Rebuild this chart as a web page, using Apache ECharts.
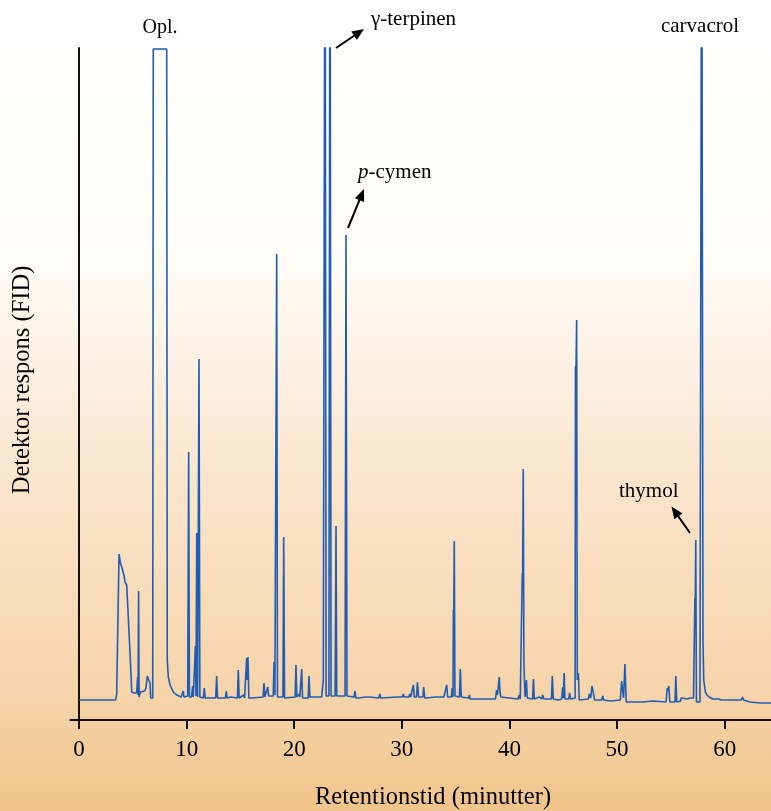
<!DOCTYPE html>
<html>
<head>
<meta charset="utf-8">
<script src="https://cdn.jsdelivr.net/npm/echarts@6/dist/echarts.min.js"></script>
<style>
html,body{margin:0;padding:0;}
#chart{width:771px;height:811px;}
</style>
</head>
<body>
<div id="chart"></div>
<script>
// Retention time (minutes) of each trace point
const times = [
  0, 3.40, 3.50, 3.72, 3.85, 3.97, 4.05, 4.12, 4.20, 4.27, 4.43, 4.58, 4.74, 4.90, 5.10, 5.35, 5.45, 5.49, 5.54, 5.58,
  5.70, 6.10, 6.22, 6.35, 6.45, 6.60, 6.66, 6.85, 6.90, 8.15, 8.20, 8.30, 8.46, 8.76, 9.08, 9.50, 9.62, 9.69, 9.75, 10.10,
  10.19, 10.26, 10.45, 10.56, 10.62, 10.75, 10.81, 10.87, 10.94, 11.02, 11.08, 11.15, 11.23, 11.55, 11.64, 11.72, 12.70, 12.79, 12.87, 13.60,
  13.69, 13.76, 14.10, 14.72, 14.80, 14.88, 15.30, 15.38, 15.50, 15.58, 15.63, 15.70, 15.78, 16.10, 17.10, 17.19, 17.27, 17.45, 17.53, 17.62,
  18.05, 18.12, 18.20, 18.28, 18.37, 18.44, 18.95, 19.02, 19.10, 20.08, 20.16, 20.24, 20.40, 20.46, 20.52, 20.62, 20.69, 20.77, 21.30, 21.37,
  21.45, 22.55, 22.70, 22.79, 22.86, 22.96, 23.22, 23.32, 23.42, 23.80, 23.88, 23.95, 24.72, 24.81, 24.90, 25.55, 25.65, 25.72, 26.00, 26.60,
  27.04, 27.85, 27.95, 28.05, 29.60, 29.67, 30.05, 30.14, 30.22, 30.65, 30.74, 30.82, 30.98, 31.07, 31.15, 31.35, 31.45, 31.55, 31.95, 32.03,
  32.12, 33.20, 33.90, 34.08, 34.17, 34.25, 34.60, 34.67, 34.75, 34.79, 34.82, 34.87, 34.93, 35.03, 35.35, 35.43, 35.52, 36.20, 36.27, 36.35,
  38.70, 38.80, 38.88, 39.05, 39.12, 39.20, 39.30, 40.80, 40.90, 41.00, 41.15, 41.19, 41.22, 41.28, 41.34, 41.45, 41.50, 41.57, 41.65, 42.15,
  42.22, 42.30, 42.80, 43.00, 43.08, 43.20, 43.90, 43.98, 44.07, 44.50, 44.85, 44.94, 45.00, 45.08, 45.15, 45.50, 45.58, 45.68, 46.10, 46.13,
  46.17, 46.24, 46.30, 46.40, 46.48, 47.33, 47.42, 47.55, 47.66, 47.78, 47.90, 48.58, 48.66, 48.75, 49.34, 50.30, 50.42, 50.52, 50.60, 50.73,
  50.85, 52.35, 52.42, 52.50, 53.35, 53.42, 53.50, 54.55, 54.66, 54.72, 54.80, 54.90, 55.38, 55.46, 55.54, 55.90, 55.96, 56.05, 56.50, 56.60,
  56.75, 56.90, 57.10, 57.20, 57.23, 57.26, 57.31, 57.37, 57.70, 57.86, 57.98, 58.05, 58.20, 58.35, 58.55, 58.90, 59.45, 59.56, 59.65, 60.20,
  61.55, 61.66, 61.75, 62.35, 63.30, 64.30
];
// Detector signal (relative units) at each point; 651 = detector saturation (Opl.)
const signal = [
  0, 0, 6, 146, 137, 133, 130, 127, 124, 118, 115, 83, 47, 8, 7, 7, 23, 5, 109, 3,
  8, 9, 12, 24, 21, 17, 2, 2, 651, 651, 40, 23, 15, 8, 5, 3, 4, 9, 3, 4,
  248, 3, 3, 14, 3, 5, 54, 4, 167, 3, 4, 341, 3, 2, 12, 2, 2, 24, 2, 2,
  9, 2, 3, 2, 30, 2, 5, 2, 3, 42, 20, 43, 2, 2, 3, 17, 3, 3, 13, 4,
  4, 38, 5, 4, 446, 3, 3, 163, 2, 3, 35, 3, 3, 6, 3, 3, 31, 2, 2, 24,
  3, 3, 20, 515, 900, 4, 4, 900, 4, 4, 174, 4, 4, 465, 4, 3, 9, 2, 2, 3,
  3, 2, 6, 2, 3, 4, 3, 6, 3, 3, 6, 3, 3, 15, 3, 3, 18, 3, 3, 13,
  2, 3, 3, 3, 15, 3, 3, 12, 3, 90, 85, 159, 4, 3, 3, 31, 3, 2, 5, 1,
  1, 10, 5, 23, 8, 3, 1, 1, 5, 1, 2, 127, 120, 231, 35, 3, 3, 20, 2, 1,
  21, 1, 3, 1, 5, 1, 1, 24, 1, 0, 1, 13, 2, 27, 1, 1, 7, 1, 2, 334,
  320, 380, 20, 27, 0, 1, 6, 2, 14, 8, 0, 0, 4, 0, -1, 0, 19, 19, 2, 36,
  -2, -2, 0, -2, -1, 1, -2, -2, 12, 9, 14, -2, -2, 24, -2, -1, 2, 0, 1, 3,
  2, 3, 2, 2, 102, 95, 160, -2, -2, 900, 60, 20, 8, 5, 3, 1, 1, 2, 0, 0,
  0, 3, 0, -2, -3, -3
];
const xTicks = [0, 10, 20, 30, 40, 50, 60];
const xTitle = 'Retentionstid (minutter)';
const yTitle = 'Detektor respons (FID)';
const peakLabels = ['Opl.', 'γ-terpinen', 'p-cymen', 'carvacrol', 'thymol'];

const FONT = '"Liberation Serif", "Times New Roman", serif';
const chart = echarts.init(document.getElementById('chart'), null, {renderer: 'canvas'});

function arrow(tx, ty, hx, hy) {
  const dx = hx - tx, dy = hy - ty, L = Math.hypot(dx, dy);
  const ux = dx / L, uy = dy / L, nx = -uy, ny = ux;
  const bx = hx - ux * 12, by = hy - uy * 12;
  return [
    {type: 'line', silent: true, shape: {x1: tx, y1: ty, x2: hx - ux * 8, y2: hy - uy * 8},
     style: {stroke: '#000', lineWidth: 2}},
    {type: 'polygon', silent: true, shape: {points: [[hx, hy], [bx + nx * 5, by + ny * 5], [bx - nx * 5, by - ny * 5]]},
     style: {fill: '#000'}}
  ];
}
function txt(x, y, text, size, align, rot, rich) {
  const o = {type: 'text', silent: true, x: x, y: y, rotation: rot || 0,
    style: {text: text, font: size + 'px ' + FONT, fill: '#000', textAlign: align || 'center', textVerticalAlign: 'middle'}};
  if (rich) o.style.rich = rich;
  return o;
}

const option = {
  animation: false,
  backgroundColor: new echarts.graphic.LinearGradient(0, 0, 0, 1, [
    {offset: 0, color: '#ffffff'},
    {offset: 0.3, color: '#fffdfa'},
    {offset: 0.55, color: '#fbe8d2'},
    {offset: 0.85, color: '#f6d4aa'},
    {offset: 1, color: '#f1c48b'}
  ]),
  grid: {left: 70.4, right: 0, top: 48, bottom: 91, containLabel: false},
  xAxis: {
    type: 'value', min: -0.8, max: 64.3,
    axisLine: {onZero: false, lineStyle: {color: '#111', width: 2}},
    axisTick: {show: true, length: 9, lineStyle: {color: '#111', width: 2}, customValues: xTicks},
    axisLabel: {customValues: xTicks, color: '#000', fontFamily: FONT, fontSize: 23, margin: 18},
    splitLine: {show: false}
  },
  yAxis: {
    type: 'value', min: -20, max: 652,
    axisLine: {show: true, onZero: true, lineStyle: {color: '#111', width: 2}},
    axisTick: {show: false}, axisLabel: {show: false}, splitLine: {show: false}
  },
  series: [{
    type: 'line',
    data: times.map((t, i) => [t, signal[i]]),
    showSymbol: false, symbol: 'none', clip: true,
    lineStyle: {color: '#1f5db5', width: 1.6},
    z: 3
  }],
  graphic: [
    txt(160, 28, peakLabels[0], 20),
    txt(371, 19, peakLabels[1], 21, 'left'),
    txt(358, 172, '{i|p}-cymen', 21, 'left', 0, {i: {fontStyle: 'italic', fontFamily: FONT, fontSize: 21, fill: '#000'}}),
    txt(700, 26, peakLabels[3], 21),
    txt(619, 491, peakLabels[4], 21, 'left'),
    txt(433, 798, xTitle, 24.5),
    txt(23, 380, yTitle, 24.5, 'center', Math.PI / 2),
    ...arrow(336, 48, 364, 29),
    ...arrow(348, 228, 364, 189),
    ...arrow(690, 533, 671.5, 506.5)
  ]
};
chart.setOption(option);
</script>
</body>
</html>
